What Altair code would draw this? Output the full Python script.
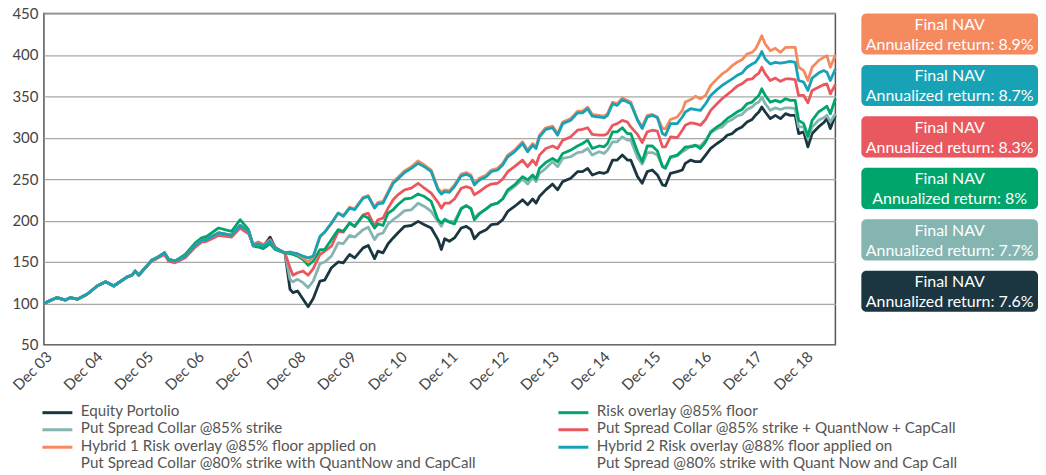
import json
import pandas as pd
import altair as alt

# months since Dec 2003
months = [0.0, 3.1, 5.1, 6.3, 7.9, 10.2, 12.6, 14.6, 16.5, 19.7, 20.8, 21.6, 22.4, 25.5, 26.7, 28.5, 29.5, 31.0, 33.4, 35.8, 37.3, 38.5, 41.3, 44.4, 46.4, 48.4, 49.5, 50.7, 51.9, 53.5, 54.7, 56.2, 57.0,
          58.2, 58.9, 60.0, 61.3, 62.5, 63.7, 65.3, 66.4, 68.0, 69.6, 70.8, 72.3, 73.5, 75.5, 76.7, 78.2, 79.0, 80.2, 81.4, 82.6, 83.7, 85.3, 86.9, 88.5, 90.0, 91.6,
          93.2, 94.0, 94.8, 95.9, 97.1, 98.7, 99.9, 101.0, 101.8, 103.0, 104.6, 105.8, 107.3, 108.5, 109.7, 111.3, 113.2, 114.4, 115.6, 116.4, 117.2, 118.7, 120.3, 121.5, 122.7, 124.6, 126.2, 127.4, 128.6, 129.7, 131.3, 132.5, 133.3, 134.5, 135.6, 136.8, 138.0, 138.8,
          140.4, 141.5, 142.7, 143.9, 145.1, 146.3, 147.0, 148.2, 149.8, 151.0, 151.7, 153.0, 154.1, 155.3, 156.5, 157.7, 159.2, 160.4, 161.6, 162.8, 163.9, 165.1, 166.3, 167.5, 168.3, 169.1, 169.8, 170.6, 171.8, 173.0, 174.2, 175.4, 176.5, 177.7, 178.5, 179.7, 180.7, 181.7, 183.2, 184.4, 185.2, 186.0, 187.2]

equity = [100, 107, 104, 107, 105, 111, 121, 126, 121, 132, 134, 139, 134, 152, 155, 161, 153, 151, 158, 171, 177, 178, 185, 182, 194, 187, 170, 172, 169, 180, 167, 163, 161,
          117, 113, 115, 105, 96, 106, 127, 128, 143, 150, 149, 159, 155, 167, 170, 154, 163, 161, 172, 179, 185, 193, 194, 199, 195, 191,
          177, 165, 178, 175, 179, 191, 193, 189, 178, 185, 189, 195, 196, 201, 211, 217, 225, 219, 226, 221, 229, 237, 244, 237, 247, 251, 259, 259, 263, 255, 258, 257, 259, 273, 273, 279, 273, 273,
          253, 245, 259, 261, 255, 243, 242, 257, 259, 261, 269, 273, 271, 271, 279, 287, 293, 297, 303, 305, 310, 313, 319, 322, 327, 331, 337, 331, 323, 327, 323, 329, 327, 327, 305, 307, 289, 305, 313, 318, 323, 311, 327]

psc85 = [100, 107, 104, 107, 105, 111, 121, 126, 121, 132, 134, 139, 134, 152, 155, 161, 153, 151, 157, 170, 176, 177, 185, 182, 193, 187, 170, 172, 169, 175, 167, 163, 161,
         129, 126, 129, 125, 119, 127, 148, 150, 157, 173, 172, 182, 180, 189, 192, 177, 183, 185, 196, 201, 205, 212, 213, 221, 217, 211,
         199, 193, 202, 199, 199, 215, 218, 215, 203, 209, 214, 219, 221, 226, 235, 241, 250, 244, 252, 247, 257, 263, 271, 265, 275, 277, 282, 283, 287, 279, 283, 281, 285, 295, 295, 301, 297, 297,
         276, 268, 282, 282, 279, 266, 265, 276, 278, 283, 285, 290, 290, 290, 297, 306, 311, 313, 319, 322, 326, 328, 334, 337, 341, 343, 349, 341, 333, 336, 334, 336, 336, 335, 313, 313, 299, 313, 321, 324, 327, 319, 329]

psc85_qc = [100, 107, 104, 107, 105, 111, 121, 126, 121, 132, 134, 139, 134, 151, 154, 159, 151, 149, 155, 168, 174, 175, 182, 180, 191, 184, 171, 174, 171, 177, 168, 163, 161,
            143, 134, 137, 139, 134, 142, 159, 163, 169, 187, 186, 197, 193, 207, 209, 193, 201, 203, 215, 225, 231, 237, 239, 245, 239, 233,
            222, 215, 221, 221, 226, 239, 241, 239, 231, 235, 241, 244, 245, 250, 259, 265, 273, 265, 273, 267, 279, 287, 290, 287, 297, 301, 309, 310, 312, 304, 303, 303, 305, 315, 317, 321, 319, 313,
            304, 294, 307, 309, 308, 289, 289, 301, 300, 309, 315, 318, 317, 315, 322, 333, 341, 347, 352, 357, 362, 365, 370, 371, 375, 378, 385, 377, 369, 372, 368, 371, 371, 370, 351, 351, 342, 357, 361, 364, 365, 353, 364]

risk85 = [100, 107, 104, 107, 105, 111, 121, 126, 121, 132, 134, 139, 134, 152, 155, 161, 153, 151, 159, 173, 179, 181, 191, 187, 201, 189, 169, 168, 166, 172, 165, 162, 161,
          160, 159, 157, 153, 146, 151, 165, 165, 177, 189, 187, 197, 193, 206, 203, 191, 196, 194, 209, 213, 219, 226, 227, 232, 229, 223,
          201, 197, 201, 198, 196, 214, 218, 214, 201, 208, 214, 219, 221, 226, 237, 243, 253, 249, 255, 250, 263, 270, 275, 271, 281, 285, 290, 293, 297, 287, 290, 289, 293, 307, 307, 312, 305, 305,
          283, 271, 290, 290, 284, 265, 263, 277, 279, 285, 289, 289, 291, 287, 295, 307, 313, 317, 323, 327, 331, 334, 341, 343, 347, 351, 359, 351, 343, 345, 343, 347, 345, 345, 321, 317, 302, 321, 331, 335, 338, 329, 347]

hybrid2 = [100, 107, 104, 107, 105, 111, 121, 126, 121, 132, 134, 139, 134, 152, 155, 161, 153, 151, 157, 170, 176, 177, 185, 182, 194, 187, 170, 172, 169, 175, 167, 163, 161,
           162, 161, 160, 157, 155, 157, 181, 186, 197, 209, 205, 215, 213, 227, 229, 215, 220, 221, 233, 245, 250, 258, 263, 269, 265, 259,
           237, 232, 235, 234, 241, 254, 256, 253, 243, 249, 253, 259, 261, 267, 277, 283, 293, 283, 291, 287, 301, 310, 312, 303, 317, 321, 330, 330, 335, 326, 325, 324, 327, 341, 339, 346, 343, 341,
           321, 311, 325, 327, 324, 305, 303, 317, 317, 325, 331, 335, 334, 333, 341, 351, 358, 363, 367, 371, 375, 378, 385, 389, 391, 397, 404, 395, 389, 391, 390, 391, 392, 391, 369, 367, 357, 372, 378, 381, 379, 369, 383]

hybrid1 = [100, 107, 104, 107, 105, 111, 121, 126, 121, 132, 134, 139, 134, 152, 155, 161, 153, 151, 157, 170, 176, 177, 185, 182, 194, 187, 170, 173, 170, 176, 167, 163, 161,
           162, 161, 159, 155, 150, 156, 180, 186, 196, 209, 206, 216, 214, 228, 230, 216, 222, 223, 235, 247, 252, 260, 265, 272, 267, 261,
           239, 234, 237, 236, 243, 256, 258, 255, 245, 251, 255, 261, 263, 269, 279, 285, 295, 285, 293, 289, 303, 312, 314, 305, 319, 323, 332, 332, 337, 328, 327, 326, 329, 343, 341, 348, 345, 343,
           322, 313, 327, 328, 325, 311, 311, 322, 325, 333, 343, 346, 350, 347, 351, 363, 371, 377, 381, 387, 391, 394, 401, 403, 407, 415, 423, 413, 405, 408, 403, 409, 409, 409, 385, 381, 369, 385, 393, 397, 399, 385, 400]

tick_labels = ["Dec 03", "Dec 04", "Dec 05", "Dec 06", "Dec 07", "Dec 08", "Dec 09", "Dec 10",
               "Dec 11", "Dec 12", "Dec 13", "Dec 14", "Dec 15", "Dec 16", "Dec 17", "Dec 18"]

names = {
    "eq": "Equity Portolio",
    "risk": "Risk overlay @85% floor",
    "psc": "Put Spread Collar @85% strike",
    "pscqc": "Put Spread Collar @85% strike + QuantNow + CapCall",
    "h1": "Hybrid 1 Risk overlay @85% floor applied on|Put Spread Collar @80% strike with QuantNow and CapCall",
    "h2": "Hybrid 2 Risk overlay @88% floor applied on|Put Spread @80% strike with Quant Now and Cap Call",
}
colors = {"eq": "#1b3640", "risk": "#00a56b", "psc": "#85b5b1",
          "pscqc": "#e9585e", "h1": "#f68a5f", "h2": "#17a3b5"}
legend_order = ["eq", "psc", "h1", "risk", "pscqc", "h2"]
draw_order = [("eq", equity), ("psc", psc85), ("pscqc", psc85_qc), ("risk", risk85), ("h1", hybrid1), ("h2", hybrid2)]

rows = []
for i, (key, vals) in enumerate(draw_order):
    assert len(vals) == len(months), key
    for m, v in zip(months, vals):
        rows.append({"m": m, "nav": v, "series": names[key], "k": i})
df = pd.DataFrame(rows)

box_keys = ["h1", "h2", "pscqc", "risk", "psc", "eq"]
box_returns = ["8.9%", "8.7%", "8.3%", "8%", "7.7%", "7.6%"]
box_df = pd.DataFrame({
    "rank": list(range(6)),
    "fill": [colors[k] for k in box_keys],
    "line1": ["Final NAV"] * 6,
    "line2": ["Annualized return: " + r for r in box_returns],
    "x0": [0.0] * 6, "x1": [1.0] * 6, "xm": [0.5] * 6,
})

label_expr = json.dumps(tick_labels) + "[round(datum.value / 12)]"

main = alt.Chart(df).mark_line(strokeWidth=2.8, strokeJoin="round").encode(
    x=alt.X("m:Q", scale=alt.Scale(domain=[0, 187.2], nice=False, zero=False),
            axis=alt.Axis(values=list(range(0, 181, 12)), labelExpr=label_expr, labelAngle=-45,
                          labelAlign="right", labelBaseline="top", labelOverlap=False,
                          labelFlush=False, labelBound=False, ticks=False, domain=False,
                          grid=False, labelFontSize=15, labelColor="#444", labelPadding=4, title=None)),
    y=alt.Y("nav:Q", scale=alt.Scale(domain=[50, 450], nice=False, zero=False),
            axis=alt.Axis(values=list(range(50, 451, 50)), ticks=False, domain=False, grid=True,
                          gridColor="#a8a8a8", gridWidth=1.2, labelFontSize=15, labelColor="#444",
                          labelPadding=6, title=None)),
    color=alt.Color("series:N",
                    scale=alt.Scale(domain=[names[k] for k in legend_order],
                                    range=[colors[k] for k in legend_order]),
                    legend=alt.Legend(title=None, orient="none", legendX=4.5, legendY=394,
                                      columns=2, symbolType="M-2,-0.45H2", symbolSize=225,
                                      symbolStrokeWidth=3, labelFontSize=15.2, labelColor="#555",
                                      labelLimit=1000, labelOffset=14.5, columnPadding=76,
                                      rowPadding=1.5, labelExpr="split(datum.label, '|')",
                                      labelBaseline="alphabetic", padding=0)),
    detail="k:N",
).properties(width=793, height=332, view=alt.ViewBackground(stroke="#555", strokeWidth=1.5))

ybox = alt.Y("rank:O", axis=None, scale=alt.Scale(paddingInner=0.2, paddingOuter=0))
xsc = alt.Scale(domain=[0, 1])
base = alt.Chart(box_df)
rects = base.mark_rect(cornerRadius=5).encode(
    x=alt.X("x0:Q", scale=xsc, axis=None), x2="x1:Q", y=ybox,
    color=alt.Color("fill:N", scale=None))
t1 = base.mark_text(color="white", fontSize=16, dy=-9, baseline="middle").encode(
    x=alt.X("xm:Q", scale=xsc, axis=None), y=ybox, text="line1:N")
t2 = base.mark_text(color="white", fontSize=16, dy=11, baseline="middle").encode(
    x=alt.X("xm:Q", scale=xsc, axis=None), y=ybox, text="line2:N")
boxes = alt.layer(rects, t1, t2).properties(width=177, height=299,
                                             view=alt.ViewBackground(strokeWidth=0))

chart = alt.hconcat(main, boxes, spacing=26, bounds="flush").properties(
    padding={"left": 1, "top": -3, "right": 0, "bottom": 0}
).configure(font="Lato").configure_view(strokeWidth=0)

chart.save("out.html", embed_options={"renderer": "svg", "actions": False})
